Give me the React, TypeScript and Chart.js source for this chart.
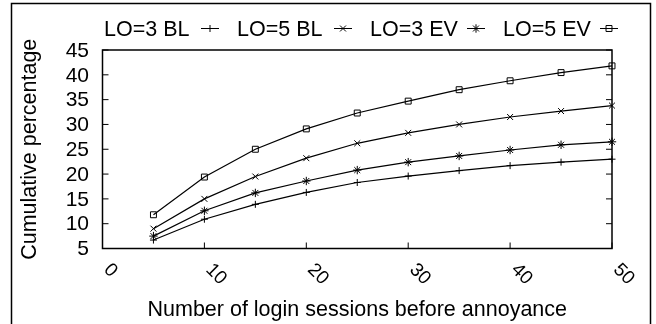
import { useEffect, useRef } from "react";
import { Chart, registerables } from "chart.js";

Chart.register(...registerables);

const sessions = [5, 10, 15, 20, 25, 30, 35, 40, 45, 50];
const lo3BL = [6.7, 10.9, 13.9, 16.3, 18.3, 19.6, 20.7, 21.7, 22.4, 23.0];
const lo5BL = [9.0, 15.0, 19.5, 23.2, 26.2, 28.3, 30.0, 31.5, 32.7, 33.8];
const lo3EV = [7.5, 12.6, 16.2, 18.6, 20.8, 22.4, 23.65, 24.85, 25.9, 26.5];
const lo5EV = [11.8, 19.4, 25.0, 29.1, 32.3, 34.7, 37.0, 38.8, 40.45, 41.8];
const seriesNames = ["LO=3 BL", "LO=5 BL", "LO=3 EV", "LO=5 EV"];
const seriesMarkers = ["cross", "crossRot", "star", "rect"];
const xTickValues = [0, 10, 20, 30, 40, 50];
const yTickValues = [5, 10, 15, 20, 25, 30, 35, 40, 45];
const xTitle = "Number of login sessions before annoyance";
const yTitle = "Cumulative percentage";

const FONT = "'Liberation Sans', Arial, Helvetica, sans-serif";

function drawMarker(ctx: CanvasRenderingContext2D, style: string, x: number, y: number, r: number) {
  ctx.beginPath();
  if (style === "cross" || style === "star") {
    ctx.moveTo(x - r, y);
    ctx.lineTo(x + r, y);
    ctx.moveTo(x, y - r);
    ctx.lineTo(x, y + r);
  }
  if (style === "crossRot" || style === "star") {
    const d = r * Math.SQRT1_2;
    ctx.moveTo(x - d, y - d);
    ctx.lineTo(x + d, y + d);
    ctx.moveTo(x - d, y + d);
    ctx.lineTo(x + d, y - d);
  }
  if (style === "rect") {
    const s = r * Math.SQRT1_2;
    ctx.rect(x - s, y - s, 2 * s, 2 * s);
  }
  ctx.stroke();
}

const decor = {
  id: "decor",
  beforeDatasetsDraw(chart: any) {
    const ctx: CanvasRenderingContext2D = chart.ctx;
    const { left, right, top, bottom } = chart.chartArea;
    const xs = chart.scales.x;
    const ys = chart.scales.y;
    ctx.save();
    ctx.strokeStyle = "#000";
    ctx.lineWidth = 1.5;
    ctx.strokeRect(11.5, 3.5, 639, 400);
    ctx.lineWidth = 1.5;
    ctx.strokeRect(left, top, right - left, bottom - top);
    ctx.lineWidth = 1;
    ctx.beginPath();
    for (const v of yTickValues) {
      const y = ys.getPixelForValue(v);
      ctx.moveTo(left, y);
      ctx.lineTo(left + 6, y);
      ctx.moveTo(right, y);
      ctx.lineTo(right - 6, y);
    }
    for (const v of xTickValues) {
      const x = xs.getPixelForValue(v);
      ctx.moveTo(x, bottom);
      ctx.lineTo(x, bottom - 6);
    }
    ctx.stroke();
    ctx.restore();
  },
  afterDraw(chart: any) {
    const ctx: CanvasRenderingContext2D = chart.ctx;
    const { left, right, top, bottom } = chart.chartArea;
    const xs = chart.scales.x;
    const ys = chart.scales.y;
    ctx.save();
    ctx.fillStyle = "#000";
    ctx.strokeStyle = "#000";
    ctx.font = `21px ${FONT}`;
    ctx.textAlign = "right";
    ctx.textBaseline = "middle";
    for (const v of yTickValues) {
      ctx.fillText(String(v), left - 13.5, ys.getPixelForValue(v) + 1);
    }
    ctx.font = `19px ${FONT}`;
    ctx.textAlign = "left";
    ctx.textBaseline = "alphabetic";
    for (const v of xTickValues) {
      const x = xs.getPixelForValue(v);
      ctx.save();
      ctx.translate(x + 0.5, bottom + 22);
      ctx.rotate(Math.PI / 4);
      ctx.fillText(String(v), 0, 0);
      ctx.restore();
    }
    ctx.font = `21.5px ${FONT}`;
    ctx.textAlign = "center";
    ctx.textBaseline = "alphabetic";
    ctx.fillText(xTitle, (left + right) / 2, 315.5);
    ctx.save();
    ctx.translate(35.5, (top + bottom) / 2);
    ctx.rotate(-Math.PI / 2);
    ctx.fillText(yTitle, 0, 0);
    ctx.restore();
    ctx.font = `21.5px ${FONT}`;
    ctx.textAlign = "left";
    seriesNames.forEach((name, i) => {
      const tx = 104 + 133 * i;
      ctx.fillText(name, tx, 35.5);
      const sx = tx + 97;
      const sy = 28.5;
      ctx.lineWidth = 1;
      ctx.beginPath();
      ctx.moveTo(sx, sy);
      ctx.lineTo(sx + 18, sy);
      ctx.stroke();
      drawMarker(ctx, seriesMarkers[i], sx + 9, sy, seriesMarkers[i] === "cross" ? 3.5 : 4.2);
    });
    ctx.restore();
  },
};

export default function App() {
  const ref = useRef<HTMLCanvasElement | null>(null);
  useEffect(() => {
    if (!ref.current) return;
    const allSeries = [lo3BL, lo5BL, lo3EV, lo5EV];
    const chart = new Chart(ref.current, {
      type: "line",
      data: {
        datasets: allSeries.map((vals, i) => ({
          label: seriesNames[i],
          data: sessions.map((s, j) => ({ x: s, y: vals[j] })),
          borderColor: "#000",
          borderWidth: 1.2,
          backgroundColor: "transparent",
          pointStyle: seriesMarkers[i] as any,
          pointRadius: seriesMarkers[i] === "cross" ? 3.5 : 4.2,
          pointBorderColor: "#000",
          pointBackgroundColor: "transparent",
          pointBorderWidth: 1,
          tension: 0,
          fill: false,
          clip: false as any,
        })),
      },
      options: {
        animation: false,
        responsive: false,
        devicePixelRatio: 1,
        layout: { padding: { left: 102.5, right: 44, top: 50, bottom: 75.5 } },
        plugins: { legend: { display: false }, tooltip: { enabled: false } },
        scales: {
          x: { type: "linear", min: xTickValues[0], max: xTickValues[xTickValues.length - 1], display: false },
          y: { type: "linear", min: yTickValues[0], max: yTickValues[yTickValues.length - 1], display: false },
        },
      },
      plugins: [decor],
    });
    return () => chart.destroy();
  }, []);
  return (
    <div style={{ position: "absolute", left: 0, top: 0, width: 656, height: 324, background: "#fff" }}>
      <canvas ref={ref} width={656} height={324} style={{ display: "block" }} />
    </div>
  );
}
